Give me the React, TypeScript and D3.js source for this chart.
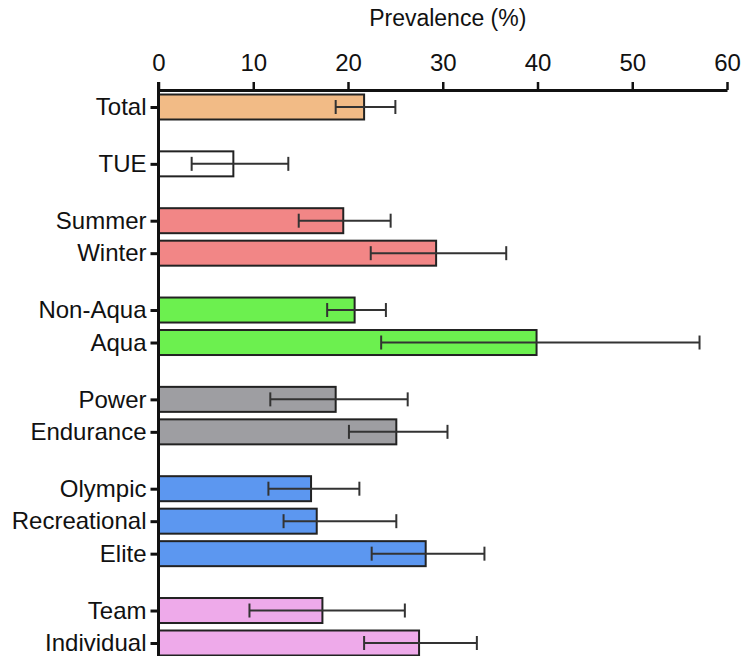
import React, { useEffect, useRef } from 'react';
import * as d3 from 'd3';

const categories = ['Total', 'TUE', 'Summer', 'Winter', 'Non-Aqua', 'Aqua', 'Power', 'Endurance', 'Olympic', 'Recreational', 'Elite', 'Team', 'Individual'];
const groups = [0, 1, 2, 2, 3, 3, 4, 4, 5, 5, 5, 6, 6];
const prevalence = [21.7, 7.9, 19.5, 29.3, 20.7, 39.9, 18.7, 25.1, 16.1, 16.7, 28.2, 17.3, 27.5];
const lower = [18.7, 3.5, 14.8, 22.4, 17.8, 23.5, 11.8, 20.1, 11.6, 13.2, 22.5, 9.6, 21.7];
const upper = [25.0, 13.7, 24.5, 36.7, 24.0, 57.1, 26.3, 30.5, 21.2, 25.1, 34.4, 26.0, 33.6];
const groupColors = ['#f2bb86', '#ffffff', '#f28686', '#6cf04f', '#9e9ea2', '#5c97f0', '#eeaaea'];
const xTicks = [0, 10, 20, 30, 40, 50, 60];

const FONT = '"Liberation Sans", Arial, Helvetica, sans-serif';

const App = () => {
  const chartRef = useRef<SVGSVGElement>(null);

  useEffect(() => {
    document.body.style.margin = '0';
    const width = 744;
    const height = 656;
    const svg = d3.select(chartRef.current)
      .attr('width', width)
      .attr('height', height);

    svg.selectAll('*').remove();

    const axisY = 90;
    const rows = categories.map((c, i) => ({
      name: c,
      pos: i + groups[i] * 0.75,
      value: prevalence[i],
      lo: lower[i],
      hi: upper[i],
      color: groupColors[groups[i]],
    }));

    const x = d3.scaleLinear().domain([0, 60]).range([158.5, 727]);
    const y = d3.scaleLinear()
      .domain([0, d3.max(rows, d => d.pos) as number])
      .range([107, 643]);
    const barH = 25;
    const capH = 14;

    // bars
    svg.append('g')
      .selectAll('rect')
      .data(rows)
      .enter().append('rect')
      .attr('x', x(0))
      .attr('y', d => y(d.pos) - barH / 2)
      .attr('width', d => x(d.value) - x(0))
      .attr('height', barH)
      .attr('fill', d => d.color)
      .attr('stroke', '#222')
      .attr('stroke-width', 2);

    // error bars
    const err = svg.append('g').attr('stroke', '#333').attr('stroke-width', 2);
    rows.forEach(d => {
      const cy = y(d.pos);
      err.append('line').attr('x1', x(d.lo)).attr('x2', x(d.hi)).attr('y1', cy).attr('y2', cy);
      err.append('line').attr('x1', x(d.lo)).attr('x2', x(d.lo)).attr('y1', cy - capH / 2).attr('y2', cy + capH / 2);
      err.append('line').attr('x1', x(d.hi)).attr('x2', x(d.hi)).attr('y1', cy - capH / 2).attr('y2', cy + capH / 2);
    });

    // top axis
    const gx = svg.append('g')
      .attr('transform', `translate(0,${axisY})`)
      .call(d3.axisTop(x).tickValues(xTicks).tickSize(8).tickSizeOuter(0).tickPadding(11));
    gx.select('.domain').attr('stroke', '#111').attr('stroke-width', 3);
    gx.selectAll('.tick line').attr('stroke', '#111').attr('stroke-width', 2.5);
    gx.selectAll('.tick text')
      .attr('fill', '#111')
      .style('font-family', FONT)
      .style('font-size', '24px');

    // left axis
    const gy = svg.append('g')
      .attr('transform', `translate(${x(0)},0)`)
      .call(d3.axisLeft(y)
        .tickValues(rows.map(d => d.pos))
        .tickFormat((_, i) => rows[i].name)
        .tickSize(8)
        .tickPadding(4));
    gy.select('.domain').remove();
    gy.append('line')
      .attr('x1', 0).attr('x2', 0)
      .attr('y1', axisY - 8).attr('y2', height)
      .attr('stroke', '#111')
      .attr('stroke-width', 3);
    gy.selectAll('.tick line').attr('stroke', '#111').attr('stroke-width', 3);
    gy.selectAll('.tick text')
      .attr('fill', '#111')
      .style('font-family', FONT)
      .style('font-size', '24px');

    // title
    svg.append('text')
      .attr('x', (x(0) + x(60)) / 2 + 5)
      .attr('y', 26)
      .attr('text-anchor', 'middle')
      .attr('fill', '#111')
      .style('font-family', FONT)
      .style('font-size', '23px')
      .text('Prevalence (%)');
  }, []);

  return (
    <svg ref={chartRef} style={{ display: 'block' }}></svg>
  );
};

export default App;
